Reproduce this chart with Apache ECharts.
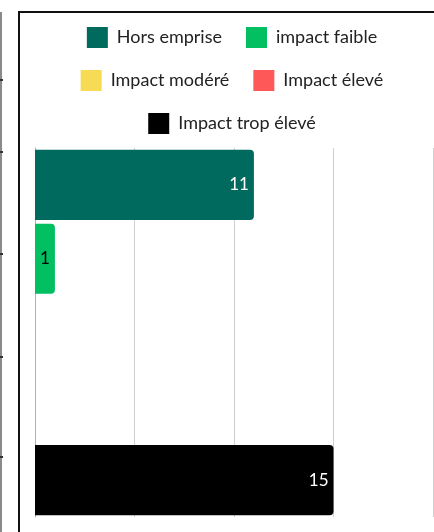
<!DOCTYPE html>
<html>
<head>
<meta charset="utf-8">
<script src="https://cdn.jsdelivr.net/npm/echarts@6/dist/echarts.min.js"></script>
<style>
  html, body { margin: 0; padding: 0; width: 434px; height: 532px; overflow: hidden; background: #fff; }
  #side { position: absolute; left: 0; top: 12px; width: 2px; height: 520px; background: #8a8a8a; }
  .tick { position: absolute; left: 0; width: 3px; height: 2px; background: #333; }
  #frame { position: absolute; left: 18px; top: 11px; width: 430px; height: 530px;
           border-left: 2px solid #111; border-top: 2px solid #111; }
  #chart { position: absolute; left: 19px; top: 12px; width: 426px; height: 520px; }
</style>
</head>
<body>
<div id="side"></div>
<div class="tick" style="top:79px"></div>
<div class="tick" style="top:151px"></div>
<div class="tick" style="top:253px"></div>
<div class="tick" style="top:356px"></div>
<div class="tick" style="top:456px"></div>
<div id="frame"></div>
<div id="chart"></div>
<script>
// Impact categories, counts and colours
const categories = ['Hors emprise', 'impact faible', 'Impact modéré', 'Impact élevé', 'Impact trop élevé'];
const counts = [11, 1, 0, 0, 15];
const colors = ['#006A5E', '#02BF62', '#F7DB55', '#FF5858', '#000000'];
const labelColors = ['#ffffff', '#000000', '#000000', '#ffffff', '#ffffff'];
const xTicks = [0, 5, 10, 15, 20];

const FONT = 'Lato';

const chart = echarts.init(document.getElementById('chart'), null, { renderer: 'canvas' });

// One series per category so each gets its own legend entry and colour
const series = categories.map((name, i) => ({
  name: name,
  type: 'bar',
  stack: 'impact',
  barCategoryGap: '5%',
  itemStyle: { color: colors[i], borderRadius: [0, 4, 4, 0] },
  label: {
    show: true,
    position: 'insideRight',
    distance: 5,
    color: labelColors[i],
    fontFamily: FONT,
    fontSize: 17,
    formatter: p => (p.value ? String(p.value) : '')
  },
  data: categories.map((c, j) => (j === i ? counts[i] : '-'))
}));

const legendBase = {
  left: 'center',
  itemWidth: 21,
  itemHeight: 21,
  itemGap: 24,
  icon: 'rect',
  textStyle: { fontFamily: FONT, fontSize: 18, color: '#222', padding: [0, 0, 0, 4] }
};

chart.setOption({
  animation: false,
  legend: [
    Object.assign({ top: 10, data: [categories[0], categories[1]] }, legendBase),
    Object.assign({ top: 53, data: [categories[2], categories[3]] }, legendBase),
    Object.assign({ top: 96, data: [categories[4]] }, legendBase)
  ],
  grid: { left: 16, top: 136, width: 398, height: 369, containLabel: false },
  xAxis: {
    type: 'value',
    min: xTicks[0],
    max: xTicks[xTicks.length - 1],
    interval: xTicks[1] - xTicks[0],
    axisLabel: { show: false },
    axisLine: { show: false },
    axisTick: { show: false },
    splitLine: { lineStyle: { color: '#cfcfcf', width: 1 } }
  },
  yAxis: {
    type: 'category',
    inverse: true,
    data: categories,
    axisLabel: { show: false },
    axisTick: { show: false },
    axisLine: { show: true, lineStyle: { color: '#b0b0b0', width: 1 } }
  },
  series: series
});
</script>
</body>
</html>
